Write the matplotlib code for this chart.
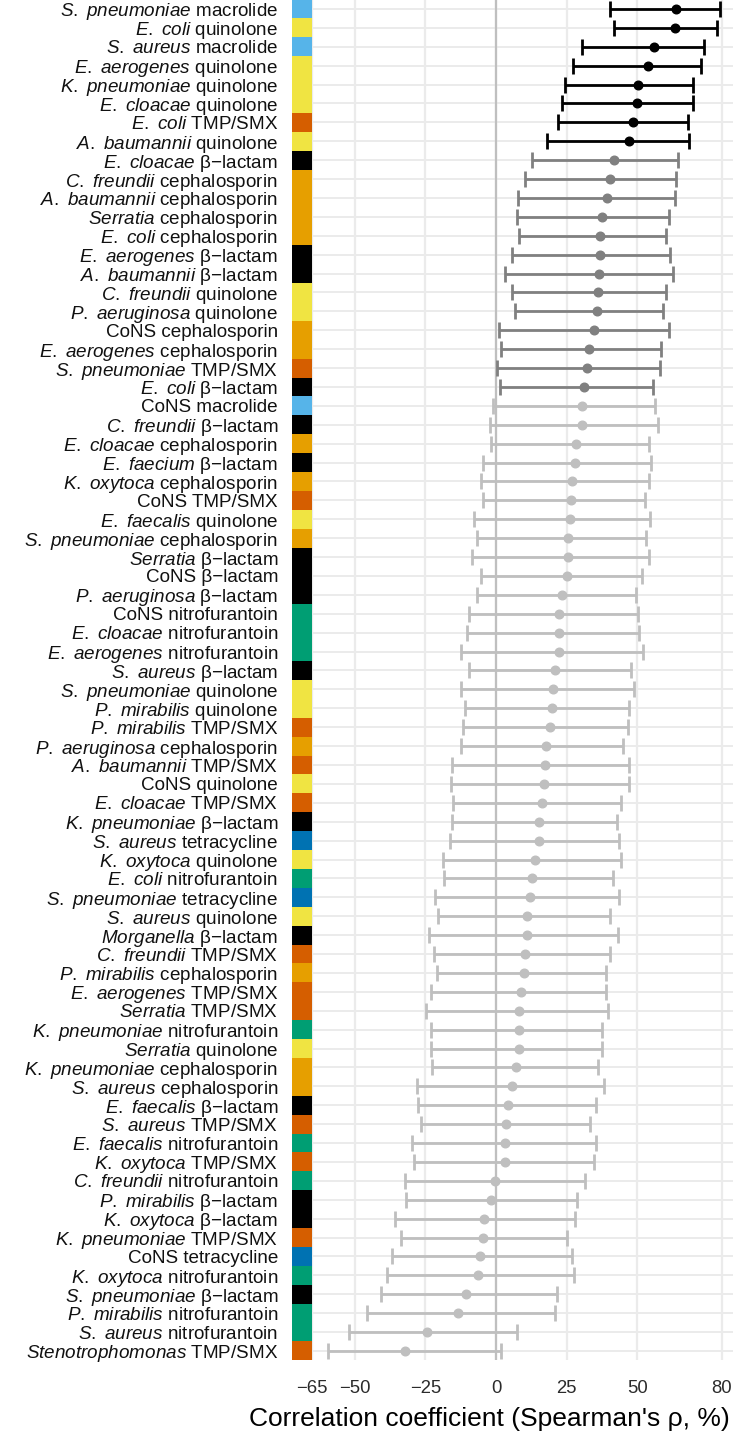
import matplotlib
matplotlib.use("Agg")
import matplotlib.pyplot as plt
import numpy as np

plt.rcParams["font.family"] = ["Liberation Sans", "DejaVu Sans"]
plt.rcParams["mathtext.fontset"] = "custom"
plt.rcParams["mathtext.rm"] = "Liberation Sans"
plt.rcParams["mathtext.it"] = "Liberation Sans:italic"

# Organism / drug-class pairs, ordered by correlation strength
species = [
    "S. pneumoniae", "E. coli", "S. aureus", "E. aerogenes", "K. pneumoniae",
    "E. cloacae", "E. coli", "A. baumannii", "E. cloacae", "C. freundii",
    "A. baumannii", "Serratia", "E. coli", "E. aerogenes", "A. baumannii",
    "C. freundii", "P. aeruginosa", "CoNS", "E. aerogenes", "S. pneumoniae",
    "E. coli", "CoNS", "C. freundii", "E. cloacae", "E. faecium",
    "K. oxytoca", "CoNS", "E. faecalis", "S. pneumoniae", "Serratia",
    "CoNS", "P. aeruginosa", "CoNS", "E. cloacae", "E. aerogenes",
    "S. aureus", "S. pneumoniae", "P. mirabilis", "P. mirabilis", "P. aeruginosa",
    "A. baumannii", "CoNS", "E. cloacae", "K. pneumoniae", "S. aureus",
    "K. oxytoca", "E. coli", "S. pneumoniae", "S. aureus", "Morganella",
    "C. freundii", "P. mirabilis", "E. aerogenes", "Serratia", "K. pneumoniae",
    "Serratia", "K. pneumoniae", "S. aureus", "E. faecalis", "S. aureus",
    "E. faecalis", "K. oxytoca", "C. freundii", "P. mirabilis", "K. oxytoca",
    "K. pneumoniae", "CoNS", "K. oxytoca", "S. pneumoniae", "P. mirabilis",
    "S. aureus", "Stenotrophomonas",
]
drug_class = [
    "macrolide", "quinolone", "macrolide", "quinolone", "quinolone",
    "quinolone", "TMP/SMX", "quinolone", "β−lactam", "cephalosporin",
    "cephalosporin", "cephalosporin", "cephalosporin", "β−lactam", "β−lactam",
    "quinolone", "quinolone", "cephalosporin", "cephalosporin", "TMP/SMX",
    "β−lactam", "macrolide", "β−lactam", "cephalosporin", "β−lactam",
    "cephalosporin", "TMP/SMX", "quinolone", "cephalosporin", "β−lactam",
    "β−lactam", "β−lactam", "nitrofurantoin", "nitrofurantoin", "nitrofurantoin",
    "β−lactam", "quinolone", "quinolone", "TMP/SMX", "cephalosporin",
    "TMP/SMX", "quinolone", "TMP/SMX", "β−lactam", "tetracycline",
    "quinolone", "nitrofurantoin", "tetracycline", "quinolone", "β−lactam",
    "TMP/SMX", "cephalosporin", "TMP/SMX", "TMP/SMX", "nitrofurantoin",
    "quinolone", "cephalosporin", "cephalosporin", "β−lactam", "TMP/SMX",
    "nitrofurantoin", "TMP/SMX", "nitrofurantoin", "β−lactam", "β−lactam",
    "TMP/SMX", "tetracycline", "nitrofurantoin", "β−lactam", "nitrofurantoin",
    "nitrofurantoin", "TMP/SMX",
]
rho = [
    63.7, 63.3, 56.0, 53.8, 50.4, 50.0, 48.5, 47.0, 41.9, 40.4,
    39.3, 37.4, 36.9, 36.8, 36.6, 36.0, 35.6, 34.8, 33.0, 32.3,
    31.0, 30.4, 30.4, 28.4, 27.9, 26.9, 26.7, 26.3, 25.5, 25.5,
    25.2, 23.4, 22.4, 22.4, 22.2, 20.9, 20.1, 19.9, 19.2, 17.7,
    17.2, 17.1, 16.2, 15.1, 15.1, 13.9, 12.6, 12.2, 11.0, 10.9,
    10.1, 9.9, 8.7, 8.2, 8.0, 8.0, 7.2, 5.8, 4.2, 3.7,
    3.3, 3.1, -0.4, -1.9, -4.2, -4.6, -5.5, -6.3, -10.5, -13.6,
    -24.5, -32.2,
]
ci_low = [
    40.4, 41.8, 30.6, 27.4, 24.5, 23.4, 22.0, 17.9, 12.9, 10.3,
    7.9, 7.6, 8.3, 5.8, 3.3, 5.7, 6.7, 1.2, 1.7, 0.5,
    1.4, -0.9, -2.1, -1.9, -4.5, -5.4, -4.5, -7.7, -6.8, -8.6,
    -5.4, -6.6, -9.7, -10.3, -12.4, -9.6, -12.5, -11.0, -11.8, -12.5,
    -15.7, -16.0, -15.1, -15.6, -16.3, -18.9, -18.4, -21.5, -20.4, -23.8,
    -21.9, -21.0, -23.0, -24.8, -23.1, -23.1, -22.8, -28.1, -27.5, -26.5,
    -29.9, -29.0, -32.2, -32.0, -35.6, -33.7, -36.7, -38.7, -40.7, -45.5,
    -52.0, -59.4,
]
ci_high = [
    79.3, 78.1, 73.7, 72.6, 69.6, 69.6, 68.1, 68.4, 64.3, 63.7,
    63.5, 61.1, 60.1, 61.6, 62.8, 60.2, 59.0, 61.4, 58.4, 58.1,
    55.5, 56.3, 57.2, 54.1, 54.8, 54.1, 52.9, 54.6, 53.0, 54.1,
    51.8, 49.6, 50.4, 50.7, 52.2, 47.8, 48.8, 47.2, 46.9, 45.1,
    47.1, 47.0, 44.1, 42.9, 43.7, 44.1, 41.3, 43.4, 40.4, 43.1,
    40.4, 38.9, 38.8, 39.5, 37.7, 37.7, 36.0, 38.2, 35.4, 33.3,
    35.5, 34.7, 31.4, 28.6, 28.0, 25.2, 26.9, 27.6, 21.5, 20.9,
    7.4, 1.65,
]
# Significant after multiple-testing correction
adjusted_significant = [
    True, True, True, True, True, True, True, True,
] + [False] * 64

x_ticks = [-65, -50, -25, 0, 25, 50, 80]

class_colors = {
    "macrolide": "#56B4E9",
    "quinolone": "#F0E442",
    "TMP/SMX": "#D55E00",
    "β−lactam": "#000000",
    "cephalosporin": "#E69F00",
    "nitrofurantoin": "#009E73",
    "tetracycline": "#0072B2",
}

rho_a = np.array(rho)
lo_a = np.array(ci_low)
hi_a = np.array(ci_high)
adj = np.array(adjusted_significant)
n = len(rho)
ypos = np.arange(1, n + 1)

W, H = 733, 1435
fig = plt.figure(figsize=(W / 100, H / 100), dpi=100)
panel_bottom_px = 1360.4
ax = fig.add_axes([292 / W, (H - panel_bottom_px) / H, 441 / W, (panel_bottom_px + 0.5) / H])

ax.set_xlim(-72.2, 83.9)
ax.set_ylim(n + 0.5, 0.5)

for s in ax.spines.values():
    s.set_visible(False)

# grid
grid_color = "#ebebeb"
for xv in x_ticks:
    ax.axvline(xv, color=grid_color, lw=1.6, zorder=0)
for yv in ypos:
    ax.axhline(yv, color=grid_color, lw=1.4, zorder=0)
ax.axvline(0, color="#bfbfbf", lw=1.6, zorder=1)

# drug class strip
strip_colors = [class_colors[d] for d in drug_class]
ax.barh(ypos, width=7.2, left=-72.2, height=1.0, color=strip_colors, zorder=3, linewidth=0)

# error bars by significance tier
tiers = [
    (adj, "#000000"),
    (~adj & (lo_a > 0), "#808080"),
    (~adj & (lo_a <= 0), "#bfbfbf"),
]
for mask, col in tiers:
    ax.errorbar(
        rho_a[mask], ypos[mask],
        xerr=[rho_a[mask] - lo_a[mask], hi_a[mask] - rho_a[mask]],
        fmt="o", color=col, ecolor=col, markersize=6.2,
        elinewidth=2.0, capsize=6.0, capthick=2.0, zorder=4,
    )


def make_label(sp, dc):
    if sp == "CoNS":
        return f"{sp} {dc}"
    return r"$\mathit{" + sp.replace(" ", r"\ ") + "}$ " + dc


labels = [make_label(s, d) for s, d in zip(species, drug_class)]
ax.set_yticks(ypos)
ax.set_yticklabels(labels, fontsize=13.6, color="#111111")
ax.set_xticks(x_ticks)
ax.set_xticklabels([str(v).replace("-", "−") for v in x_ticks], fontsize=13.3, color="#2b2b2b")
ax.tick_params(axis="y", length=0, pad=10)
ax.tick_params(axis="x", length=0, pad=14)

ax.set_xlabel("Correlation coefficient (Spearman's ρ, %)", fontsize=19, labelpad=7, color="#000000")
ax.xaxis.label.set_x((489 - 292) / 441)

fig.savefig("out.png", dpi=100)
